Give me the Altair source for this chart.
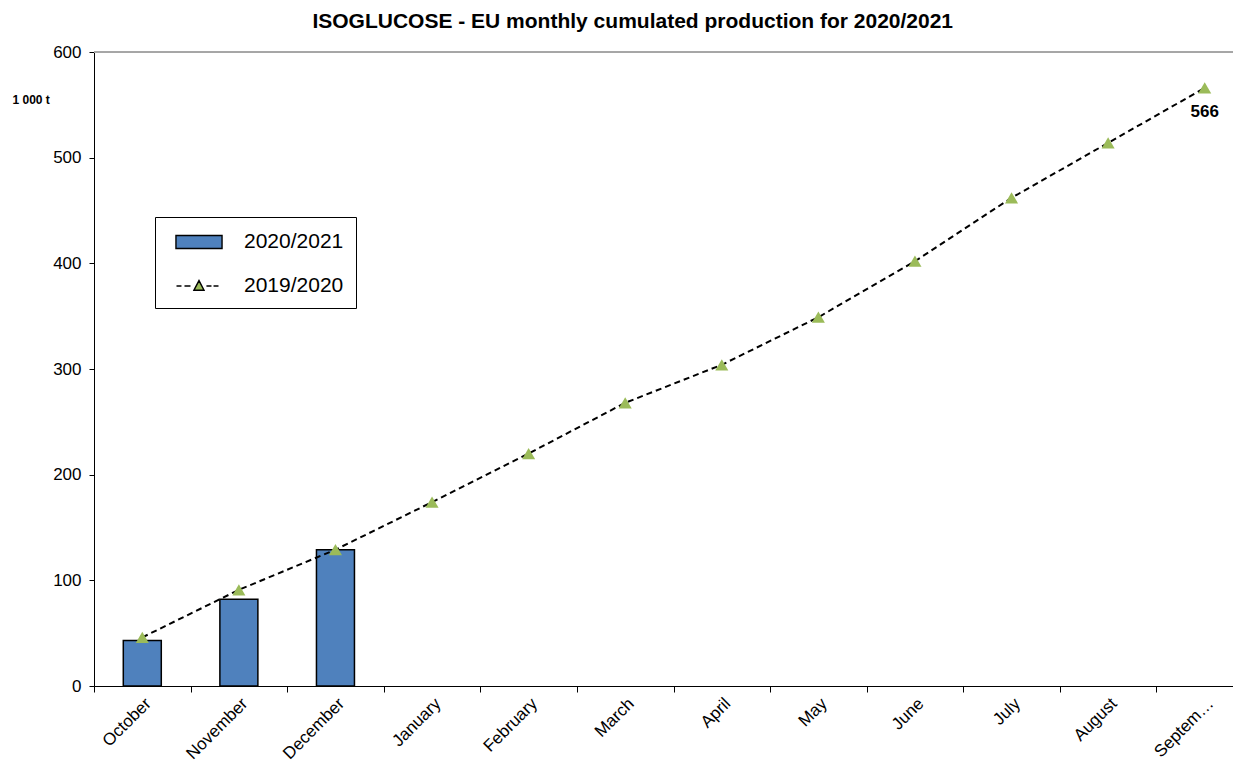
import altair as alt
import pandas as pd

months = ["October", "November", "December", "January", "February", "March",
          "April", "May", "June", "July", "August", "September"]
prod_2020_21 = [43, 82, 129]
prod_2019_20 = [46, 91, 129, 174, 220, 268, 304, 349, 402, 462, 514, 566]
series = ["2020/2021", "2019/2020"]
y_ticks = [0, 100, 200, 300, 400, 500, 600]

bars_df = pd.DataFrame({"month": months[:len(prod_2020_21)], "value": prod_2020_21})
line_df = pd.DataFrame({"month": months, "value": prod_2019_20})
last_df = line_df.tail(1)
legend_df = pd.DataFrame({"series": series})

FONT = "Liberation Sans"

x = alt.X("month:O", sort=months, title=None,
          scale=alt.Scale(domain=months, range=[0, 1159], paddingInner=0, paddingOuter=0),
          axis=alt.Axis(labelAngle=-45, labelFontSize=17, labelFont=FONT, labelColor="black",
                        labelLimit=200,
                        labelExpr="datum.label == 'September' ? 'Septem\u2026' : datum.label",
                        tickBand="extent", tickColor="black", tickSize=6,
                        domainColor="black", domainWidth=1, grid=False, labelPadding=3))
y = alt.Y("value:Q",
          scale=alt.Scale(domain=[0, 600], nice=False),
          axis=alt.Axis(values=y_ticks, title="1 000 t", titleAngle=0, titleX=-82, titleY=47,
                        titleAlign="left", titleBaseline="middle", titleFontSize=12,
                        titleFont=FONT, titleFontWeight="bold", titleColor="black",
                        labelFontSize=17, labelFont=FONT, labelColor="black",
                        tickColor="black", tickSize=5, domainColor="black",
                        gridColor="#D9D9D9", gridDash=[3, 3], labelPadding=8))

top_rule = alt.Chart(line_df).mark_rule(color="#A6A6A6", strokeWidth=1).encode(
    y=alt.datum(600))

bars = alt.Chart(bars_df).mark_bar(size=38, color="#4F81BD", stroke="black",
                                   strokeWidth=1.5).encode(x=x, y=y)

line = alt.Chart(line_df).mark_line(color="black", strokeDash=[6, 4],
                                    strokeWidth=2).encode(x=x, y=y)

points = alt.Chart(line_df).mark_point(shape="triangle-up", filled=True, color="#9BBB59",
                                       size=170, opacity=1).encode(x=x, y=y)

label = alt.Chart(last_df).mark_text(fontSize=17, fontWeight="bold", font=FONT,
                                     color="black", dy=24).encode(
    x=x, y=y, text=alt.Text("value:Q"))

rect_path = "M-1.92,-0.54H1.92V0.54H-1.92Z"
line_path = ("M-1.875,0H-1.46M-1.21,0H-0.71M0.62,0H1.04M1.21,0H1.625"
             "M-0.42,0.35L0,-0.45L0.42,0.35Z")

leg = dict(orient="none", legendX=61, legendY=165, title=None,
           symbolSize=576, symbolStrokeWidth=1.4,
           symbolOpacity=1, symbolOffset=19, labelOffset=32, labelFontSize=21,
           labelFont=FONT, labelColor="black", rowPadding=21, padding=12,
           strokeColor="black", fillColor="white", labelBaseline="middle",
           labelExpr="datum.label + '  '")

legend_layer = alt.Chart(legend_df).mark_point(filled=True, strokeWidth=1.4,
                                               opacity=0).encode(
    color=alt.Color("series:N", scale=alt.Scale(domain=series, range=["#4F81BD", "#9BBB59"]),
                    legend=alt.Legend(**leg)),
    shape=alt.Shape("series:N", scale=alt.Scale(domain=series, range=[rect_path, line_path]),
                    legend=alt.Legend(**leg)),
    stroke=alt.Stroke("series:N", scale=alt.Scale(domain=series, range=["black", "black"]),
                      legend=alt.Legend(**leg)),
)

chart = alt.layer(top_rule, bars, line, points, label, legend_layer).properties(
    width=1139, height=634,
    autosize=alt.AutoSizeParams(type="none"),
    padding={"left": 86, "top": 44, "right": 0, "bottom": 78},
    title=alt.TitleParams("ISOGLUCOSE - EU monthly cumulated production for 2020/2021",
                          fontSize=21, font=FONT, fontWeight="bold", color="black",
                          anchor="middle", frame="bounds", offset=11),
).configure_view(stroke=None).configure(background="white")

chart.save("out.html", embed_options={"renderer": "svg", "actions": False})
